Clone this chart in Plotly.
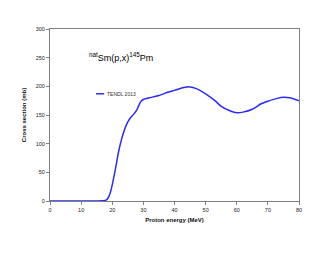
import plotly.graph_objects as go

energy = [0, 5, 10, 15, 17, 18, 18.5, 19, 19.5, 20, 21, 22, 23, 24, 25, 26, 27, 28, 29, 30, 32, 35, 38, 40, 43, 45, 47, 50, 53, 55, 58, 60, 62, 65, 68, 70, 73, 75, 77, 80]
xs = [0, 0, 0, 0, 0.3, 1.5, 4, 9, 17, 28, 55, 85, 108, 125, 138, 146, 152, 160, 172, 177, 180, 184, 190, 193, 198, 199, 196, 187, 175, 165, 157, 154, 155, 160, 170, 174, 179, 181, 180, 175]
x_ticks = [0, 10, 20, 30, 40, 50, 60, 70, 80]
y_ticks = [0, 50, 100, 150, 200, 250, 300]
series_name = "TENDL 2013"

fig = go.Figure()
fig.add_trace(go.Scatter(x=energy, y=xs, mode="lines", line=dict(color="#2a2aff", width=1.5, shape="spline", smoothing=0.5),
                         name=series_name, showlegend=False))

axis_common = dict(showline=True, linecolor="#808080", linewidth=1, mirror=True, showgrid=False, zeroline=False,
                   ticks="outside", ticklen=3, tickcolor="#808080",
                   tickfont=dict(family="Liberation Sans, Arial", size=5.5, color="#222"))

fig.update_layout(
    width=322, height=247,
    margin=dict(l=42, r=31, t=21, b=54),
    paper_bgcolor="white", plot_bgcolor="white",
    xaxis=dict(range=[0, 80], tickvals=x_ticks,
               title=dict(text="<b>Proton energy (MeV)</b>", font=dict(family="Liberation Sans, Arial", size=6, color="#111"), standoff=6),
               **axis_common),
    yaxis=dict(range=[0, 300], tickvals=y_ticks,
               title=dict(text="<b>Cross section (mb)</b>", font=dict(family="Liberation Sans, Arial", size=6, color="#111"), standoff=8),
               **axis_common),
    showlegend=False,
)

fig.add_annotation(x=11.8, y=252, xref="x", yref="y", xanchor="left", yanchor="middle", showarrow=False,
                   text="<sup>nat</sup>Sm(p,x)<sup>145</sup>Pm",
                   font=dict(family="Liberation Sans, Arial", size=9, color="black"))
# manual legend
fig.add_shape(type="line", x0=14.8, x1=17.4, y0=187, y1=187, xref="x", yref="y", line=dict(color="#2a2aff", width=1.5))
fig.add_annotation(x=17.6, y=187, xref="x", yref="y", xanchor="left", yanchor="middle", showarrow=False,
                   text=series_name, font=dict(family="Liberation Sans, Arial", size=5, color="#333"))

fig.write_html("out.html")
